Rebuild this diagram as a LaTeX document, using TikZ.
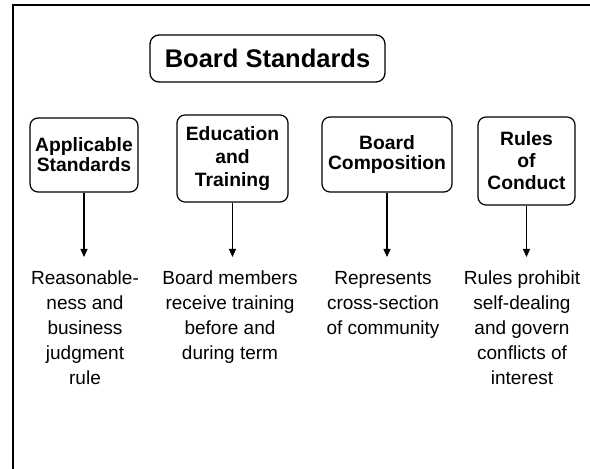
\documentclass[tikz,border=0pt]{standalone}
\usepackage{fontspec}
\setmainfont{Liberation Sans}
\usetikzlibrary{arrows.meta}
\begin{document}
\begin{tikzpicture}[x=1pt,y=1pt,
  frame/.style={line width=1.6pt},
  headbox/.style={draw, line width=1.3pt, rounded corners=9pt, minimum width=235pt, minimum height=47pt, inner sep=0pt, font=\fontsize{25.5}{30}\selectfont\bfseries},
  catbox/.style={draw, line width=1.2pt, rounded corners=8pt, align=center, inner sep=0pt, font=\fontsize{19.3}{20}\selectfont\bfseries},
  desc/.style={align=center, inner xsep=0pt, inner ysep=14pt, anchor=north, font=\fontsize{19}{25}\selectfont},
  conn/.style={line width=1.1pt, -{Triangle[length=8pt,width=7pt]}}
]
\useasboundingbox (0,0) rectangle (590,469);
\coordinate (tl) at (13,464);
\coordinate (tr) at (590,464);
\coordinate (bl) at (13,0);
\draw[frame] (tr) -- (tl) -- (bl);

\node[headbox] (title) at (267.5,410.5) {Board Standards};

\node[catbox, minimum width=108pt, minimum height=74pt] (app) at (84,314) {Applicable\\Standards};
\node[catbox, minimum width=111pt, minimum height=87pt, font=\fontsize{19.3}{23}\selectfont\bfseries] (edu) at (232.5,310.5) {Education\\and\\Training};
\node[catbox, minimum width=130pt, minimum height=75pt] (comp) at (387,314.5) {Board\\Composition};
\node[catbox, minimum width=97pt, minimum height=88pt, font=\fontsize{19.3}{22}\selectfont\bfseries] (rules) at (526.5,308) {Rules\\of\\Conduct};

\node[desc] (dapp) at (85,212) {Reasonable-\\ness and\\business\\judgment\\rule};
\node[desc] (dedu) at (230,212) {Board members\\receive training\\before and\\during term};
\node[desc] (dcomp) at (383,212) {Represents\\cross-section\\of community};
\node[desc] (drules) at (522,212) {Rules prohibit\\self-dealing\\and govern\\conflicts of\\interest};

\draw[conn] (app.south) -- (app.south |- dapp.north);
\draw[conn] (edu.south) -- (edu.south |- dedu.north);
\draw[conn] (comp.south) -- (comp.south |- dcomp.north);
\draw[conn] (rules.south) -- (rules.south |- drules.north);
\end{tikzpicture}
\end{document}
